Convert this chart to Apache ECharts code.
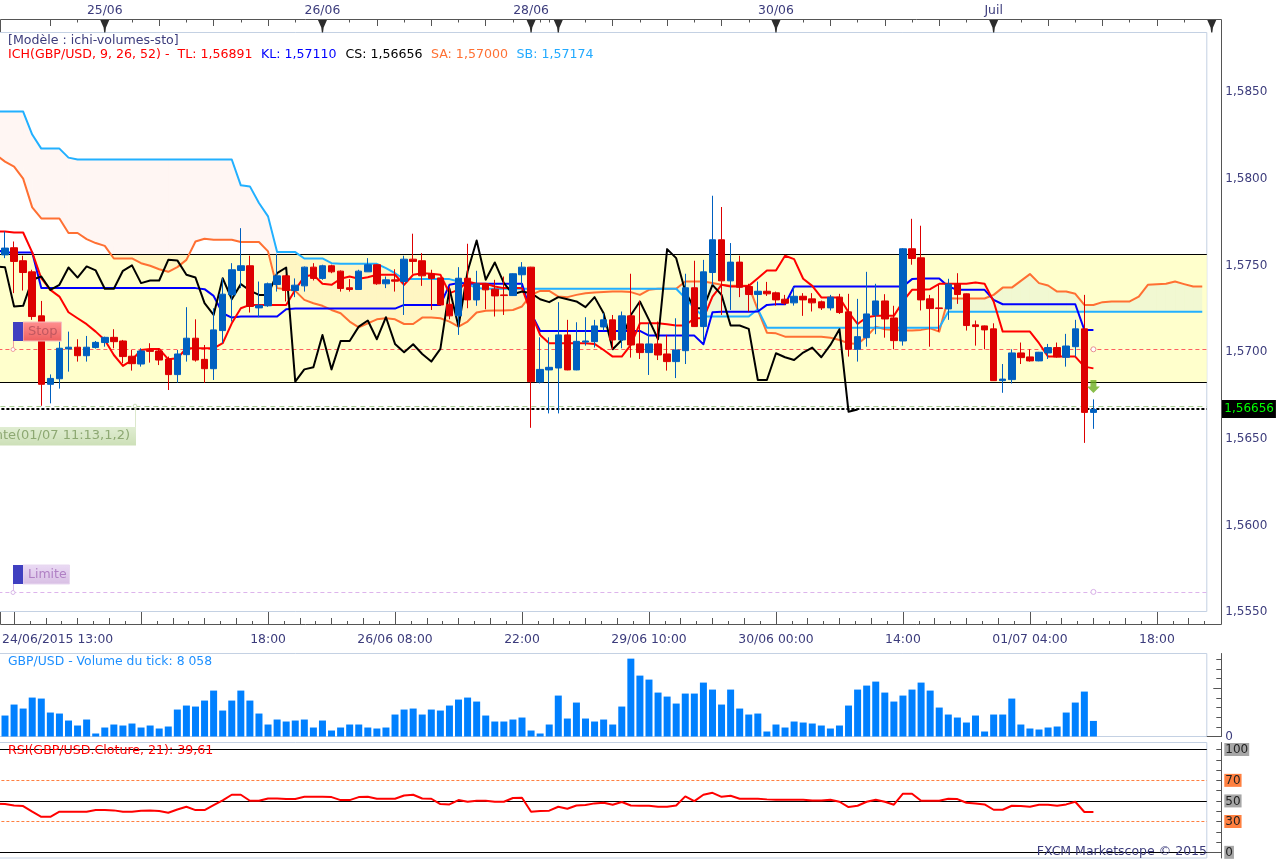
<!DOCTYPE html>
<html><head><meta charset="utf-8"><style>html,body{margin:0;padding:0;background:#fff;overflow:hidden;width:1279px;height:860px}#c{position:absolute;left:-9px;top:0;width:1288px;height:860px}</style>
<script src="https://cdn.jsdelivr.net/npm/echarts@6/dist/echarts.min.js"></script></head><body><div id="c"></div>
<script>
// all prices in 1/100000 ; bar 0 of the lines lies just off the left edge
const opens=[157545,157586,157511,157447,157193,156798,156830,157002,157012,156963,157010,157039,157069,157048,156960,156915,156994,156990,156944,156854,156969,157064,156942,156888,157108,157314,157455,157482,157239,157251,157374,157424,157339,157366,157474,157409,157482,157451,157355,157345,157447,157488,157378,157401,157391,157520,157511,157434,157412,157260,157193,157410,157285,157378,157347,157314,157310,157430,157474,156811,156881,156892,157083,156881,157042,157044,157129,157170,157054,157193,157031,156981,157031,156973,156929,156992,157355,157131,157443,157632,157395,157503,157362,157316,157335,157326,157289,157268,157306,157291,157274,157239,157301,157216,157000,157067,157198,157279,157181,157048,157580,157528,157291,157239,157233,157376,157320,157141,157135,157118,156819,156825,156979,156956,156933,156979,157010,156954,157015,157118,156636];
const closes=[157584,157507,157443,157189,156798,156832,157006,157012,156963,157012,157040,157069,157044,156958,156917,156990,156988,156938,156854,156973,157064,156938,156888,157112,157318,157459,157482,157247,157254,157378,157424,157339,157370,157474,157409,157482,157447,157351,157345,157451,157488,157378,157401,157393,157520,157507,157424,157409,157256,157193,157410,157285,157378,157343,157308,157310,157436,157474,156813,156884,156896,157083,156881,157046,157048,157135,157170,157054,157193,157025,156981,157031,156967,156929,156996,157355,157131,157447,157632,157395,157503,157358,157316,157335,157320,157285,157266,157306,157285,157268,157239,157301,157212,157000,157073,157204,157279,157175,157050,157580,157524,157285,157235,157235,157376,157316,157137,157131,157112,156819,156828,156979,156952,156933,156983,157010,156956,157019,157118,156636,156653];
const lows=[157526,157324,157339,157170,156674,156688,156773,156871,156929,156929,157004,157015,157006,156919,156877,156900,156923,156909,156765,156807,156929,156929,156807,156823,157035,157160,157353,157212,157185,157245,157333,157276,157301,157333,157397,157401,157439,157333,157333,157343,157447,157372,157353,157333,157198,157436,157366,157227,157254,157173,157083,157237,157251,157231,157189,157198,157308,157353,156547,156803,156630,156630,156879,156879,157021,157010,157108,157000,157006,156952,156944,156852,156938,156877,156834,156915,157129,157044,157372,157198,157227,157301,157218,157227,157308,157252,157256,157252,157193,157218,157227,157224,157204,156958,156929,157015,157087,157067,157000,157021,157488,157224,157015,157102,157170,157262,157108,157021,157000,156817,156749,156803,156915,156929,156931,156944,156952,156900,156958,156460,156541];
const highs=[157680,157622,157540,157459,157279,156855,157044,157102,157058,157077,157048,157073,157116,157054,156996,157006,157035,157006,156958,156996,157243,157173,157025,157237,157410,157497,157699,157540,157391,157385,157551,157430,157409,157478,157497,157488,157488,157455,157405,157459,157526,157490,157420,157462,157540,157667,157555,157459,157414,157362,157474,157609,157453,157382,157401,157420,157438,157503,157476,157069,157069,157272,157170,157156,157185,157170,157208,157198,157218,157436,157281,157150,157160,157083,157179,157436,157511,157516,157886,157821,157613,157540,157378,157391,157389,157333,157314,157358,157324,157324,157281,157314,157320,157320,157291,157447,157378,157318,157251,157584,157753,157713,157314,157372,157407,157439,157322,157166,157137,157150,156915,157000,157039,157000,156985,157031,157039,157089,157170,157314,156711];
const tenkan=[157680,157680,157674,157674,157559,157410,157343,157304,157214,157179,157145,157102,157054,156967,156904,156938,156996,157002,157002,156942,156948,157006,157006,157006,157006,157035,157150,157237,157256,157256,157256,157256,157256,157343,157420,157430,157378,157372,157407,157420,157407,157416,157430,157430,157430,157372,157430,157439,157436,157430,157324,157343,157391,157378,157378,157362,157353,157353,157353,157208,157083,157035,157035,157035,157035,157035,157031,156996,156958,156958,157025,157150,157150,157150,157145,157137,157137,157179,157179,157304,157372,157362,157362,157366,157410,157455,157455,157540,157520,157407,157366,157299,157299,157299,157214,157146,157185,157193,157193,157193,157276,157343,157343,157347,157378,157378,157378,157378,157385,157378,157276,157102,157102,157102,157102,157035,156958,156958,156958,156958,156900,156890];
const kijun=[157574,157559,157559,157559,157559,157353,157353,157353,157353,157353,157353,157353,157353,157353,157353,157353,157353,157353,157353,157353,157353,157353,157353,157347,157308,157208,157183,157189,157189,157189,157189,157189,157231,157235,157235,157235,157235,157235,157235,157235,157235,157235,157235,157235,157235,157256,157256,157256,157256,157256,157372,157382,157378,157378,157378,157378,157378,157378,157378,157208,157106,157106,157106,157106,157106,157106,157106,157106,157106,157106,157106,157106,157079,157079,157079,157079,157079,157079,157029,157214,157216,157216,157216,157216,157218,157256,157260,157260,157362,157362,157362,157362,157362,157362,157362,157362,157362,157362,157362,157362,157362,157405,157409,157409,157409,157362,157343,157343,157343,157343,157285,157260,157260,157260,157260,157260,157260,157260,157260,157260,157112,157112];
const chikou=[157478,157474,157247,157251,157401,157420,157343,157372,157472,157414,157478,157455,157349,157349,157453,157484,157382,157397,157397,157516,157513,157430,157414,157266,157198,157410,157289,157376,157339,157314,157314,157439,157472,156813,156884,156896,157083,156884,157048,157048,157131,157166,157058,157185,157031,156983,157029,156973,156929,157002,157349,157131,157449,157628,157401,157501,157382,157318,157333,157324,157289,157272,157301,157289,157276,157243,157301,157208,157000,157054,157198,157276,157170,157058,157578,157526,157333,157237,157237,157372,157314,157137,157137,157118,156823,156823,156977,156954,156938,156981,157010,156954,157025,157116,156640,156653];
const senkouA=[158123,158083,158054,157985,157819,157755,157755,157755,157671,157671,157636,157613,157597,157524,157524,157524,157497,157482,157462,157447,157474,157516,157622,157638,157632,157632,157632,157619,157619,157619,157565,157353,157347,157337,157285,157266,157251,157227,157208,157160,157127,157150,157173,157179,157173,157146,157146,157183,157183,157179,157160,157131,157160,157212,157222,157224,157224,157227,157247,157314,157337,157337,157304,157301,157314,157324,157328,157330,157333,157333,157330,157314,157343,157349,157349,157349,157391,157391,157391,157382,157372,157366,157366,157366,157227,157096,157092,157073,157073,157073,157073,157073,157067,157054,157035,157031,157073,157131,157116,157112,157108,157108,157112,157121,157102,157295,157293,157293,157293,157293,157314,157356,157356,157395,157434,157382,157368,157333,157333,157320,157256,157256,157272,157276,157276,157276,157304,157372,157376,157378,157391,157376,157362,157362];
const senkouB=[158372,158372,158372,158372,158239,158158,158158,158158,158106,158095,158095,158095,158095,158095,158095,158095,158095,158095,158095,158095,158095,158095,158095,158095,158095,158095,158095,157946,157940,157844,157767,157561,157561,157561,157524,157524,157524,157497,157493,157493,157493,157493,157493,157468,157439,157405,157405,157405,157405,157405,157405,157391,157376,157353,157349,157349,157349,157349,157349,157349,157349,157349,157349,157349,157349,157349,157349,157349,157349,157349,157349,157349,157349,157349,157349,157349,157295,157237,157189,157189,157189,157189,157189,157189,157231,157125,157125,157125,157125,157125,157125,157125,157125,157125,157125,157125,157125,157125,157125,157125,157125,157125,157125,157125,157125,157216,157216,157216,157216,157216,157216,157216,157216,157216,157216,157216,157216,157216,157216,157216,157216,157216,157216,157216,157216,157216,157216,157216,157216,157216,157216,157216,157216,157216];
const tickVolume=[10836,16512,14448,20124,19608,12384,11868,8256,5676,8772,1548,4644,6192,5676,6708,4644,5676,4128,5160,13932,15996,15480,18576,23736,13416,18576,23736,18576,11868,6192,8772,7740,8256,8772,4644,8256,3096,4644,6192,6192,4644,4128,4644,11352,13932,14448,11352,13932,13416,15996,19092,20124,18060,10836,7740,7740,8772,9804,3096,1548,6192,21156,9288,17544,9288,7740,8772,6192,15480,40248,31476,29412,22704,20640,17028,22188,22188,27864,24252,16512,24252,14448,11352,11868,2580,6192,4644,7740,7224,6708,5676,4128,5676,15996,24252,26316,28380,22704,18060,21156,24252,27864,23736,14964,11352,9804,7224,10836,2580,11352,11352,19608,6192,4128,3612,4644,5160,12384,17544,23220,8058];
const rsi=[47.2,46.9,45.6,45.0,39.5,34.6,34.6,39.5,39.5,39.5,39.5,41.1,41.1,40.8,39.5,39.5,40.5,40.8,40.1,38.5,41.7,44.3,41.1,41.1,46.0,50.5,56.0,56.0,50.2,50.2,52.4,52.4,51.8,51.8,54.0,54.0,54.0,53.7,50.8,50.8,53.7,54.0,52.1,52.1,52.1,55.3,56.0,52.4,52.1,46.9,46.6,50.8,49.2,50.2,50.2,49.2,49.2,52.8,53.1,39.5,40.1,40.5,44.3,42.4,45.6,46.0,47.6,48.2,46.3,48.9,45.6,45.3,45.3,44.3,44.3,45.6,54.4,49.8,56.0,57.9,54.0,55.0,52.1,52.1,52.1,51.5,51.1,51.1,51.1,51.1,50.5,50.5,51.1,49.2,44.0,45.3,49.2,51.1,49.2,46.3,57.0,57.0,50.2,50.2,50.2,52.1,51.8,48.2,47.6,46.6,41.4,41.4,45.3,45.0,44.3,46.3,46.3,45.3,46.6,49.2,39.2,39.2];
const priceTicks=[1.555,1.56,1.565,1.57,1.575,1.58,1.585];
const bottomTickIdx=[7.3,30.5,44.5,58.5,72.5,86.5,100.5,114.5,128.5];
const bottomTickText=['24/06/2015 13:00','18:00','26/06 08:00','22:00','29/06 10:00','30/06 00:00','14:00','01/07 04:00','18:00'];
const topTickIdx=[12.5,36.5,59.5,86.5,110.5];
const topTickText=['25/06','26/06','28/06','30/06','Juil'];
const flagIdx=[12,36,59,62,86,110,133];
const lastPrice=1.56656, bandHigh=1.57547, bandLow=1.56808, stopPrice=1.5700, limitPrice=1.5560, entryPrice=1.56671;
const FONT='DejaVu Sans', TXT='#3C3C7C', EDGE='#C4D1E3', AX='#555';
const P=v=>v==null?null:v/100000, pr=a=>a.map(P);
const N=134, bars=Array.from({length:N},(_, i)=>'b'+i);
const padded=a=>a.concat(new Array(N-a.length).fill(null));
const yMin=1.55487,yMax=1.58828;
const chart=echarts.init(document.getElementById('c'),null,{renderer:'canvas',width:1288,height:860});
const comma=v=>v.toFixed(4).replace('.',',');
const grids=[{left:0.4,width:1215.4,top:32.5,height:579},{left:0.4,width:1215.4,top:653.5,height:83},{left:0.4,width:1215.4,top:742.5,height:115.5}]
 .map(g=>({...g,show:true,borderColor:EDGE,borderWidth:1,backgroundColor:'transparent',containLabel:false}));
const hiddenCat=i=>({type:'category',gridIndex:i,data:bars,show:false,boundaryGap:true});
const tickX=(pos,offset,vals,len,label)=>({type:'value',gridIndex:0,min:0,max:N,position:pos,offset,axisLine:{show:false},splitLine:{show:false},
  axisTick:{show:true,inside:true,length:len,customValues:vals,lineStyle:{color:AX,width:1}},
  axisLabel:label||{show:false,customValues:vals}});
// tick positions along the two time axes
const bt=[];for(let n=0;n<76;n++)bt.push(2.5+1.75*n);
const btLong=bt.filter((_,n)=>n%8===0),btMid=bt.filter((_,n)=>n%8!==0&&n%2===0),btShort=bt.filter((_,n)=>n%2===1);
const ttLong=[],ttShort=[];
for(let i=5;i<=56;i+=3)((i-5)%6===0?ttLong:ttShort).push(i+1.5);
[59,60].forEach(i=>ttShort.push(i+1.5));
for(let i=61;i<=130;i+=3)((i-61)%6===0?ttLong:ttShort).push(i+1.5);
const xLab=(vals,text,margin)=>({show:true,customValues:vals,margin,color:TXT,fontFamily:FONT,fontSize:12.4,
  hideOverlap:false,formatter:v=>{const k=vals.findIndex(q=>Math.abs(q-v)<1e-6);return k<0?'':text[k];}});
const xAxes=[hiddenCat(0),hiddenCat(1),hiddenCat(2),
  tickX('bottom',12.5,btLong,12,xLab(bottomTickIdx,bottomTickText,9.5)),
  tickX('bottom',12.5,btMid,6),tickX('bottom',12.5,btShort,3),
  tickX('top',13,ttLong,6.5,xLab(topTickIdx,topTickText,2.5)),
  tickX('top',13,ttShort,3)];
const tickY=(grid,min,max,vals,len,label,line)=>({type:'value',gridIndex:grid,position:'right',offset:14.5,min,max,splitLine:{show:false},
  axisLine:{show:!!line,lineStyle:{color:AX}},
  axisTick:{show:true,inside:true,length:len,customValues:vals,lineStyle:{color:AX}},
  axisLabel:label||{show:false,customValues:vals}});
const px5=[],px25=[];
for(let k=0;k<=66;k++){const v=+(1.555+k*0.0005).toFixed(4);if(v<yMax&&k%10!==0){(k%5===0?px25:px5).push(v);}}
const vol5=[5000,10000,15000,20000,30000,35000,40000];
const rsi10=[10,20,30,40,50,60,70,80,90,100];
const volMax=42900;
const rsiMin=-5.5,rsiMax=106.8;
const yAxes=[
 tickY(0,yMin,yMax,priceTicks,14.5,{show:true,customValues:priceTicks,margin:4,formatter:v=>'{p|'+comma(v)+'}',
   rich:{p:{color:TXT,fontFamily:FONT,fontSize:12,padding:[6,0,0,0]}}}),
 tickY(0,yMin,yMax,px25,7),
 tickY(0,yMin,yMax,px5,4.5),
 {type:'value',gridIndex:0,position:'right',offset:14.5,min:yMin,max:yMax,splitLine:{show:false},axisLine:{show:false},axisTick:{show:false},
  axisLabel:{show:true,customValues:[lastPrice],margin:0,color:'#00FF00',backgroundColor:'#000',padding:[3,2,3,3],fontFamily:FONT,fontSize:12,formatter:v=>v.toFixed(5).replace('.',',')}},
 tickY(1,0,volMax,[0],14.5,{show:true,customValues:[0],margin:4,color:TXT,fontFamily:FONT,fontSize:12,formatter:v=>String(v)},true),
 tickY(1,0,volMax,vol5,5),
 tickY(2,rsiMin,rsiMax,[0],14.5,{show:true,customValues:[0,30,50,70,100],margin:3,fontFamily:FONT,fontSize:12,color:'#222',
   formatter:v=>{const s=(v===30||v===70)?'o':'g';return '{'+s+'|'+v+'}';},
   rich:{g:{backgroundColor:'#A6A6A6',padding:[1,1,0,1],fontFamily:FONT,fontSize:12,color:'#222'},o:{backgroundColor:'#FF8040',padding:[1,1,0,1],fontFamily:FONT,fontSize:12,color:'#222'}}},true),
 tickY(2,rsiMin,rsiMax,rsi10,5),
 tickY(1,0,volMax,[25000],8)
];
const lineS=(name,data,color,w=2)=>({name,type:'line',xAxisIndex:0,yAxisIndex:0,data:padded(pr(data)),showSymbol:false,symbol:'none',connectNulls:false,z:4,clip:true,lineStyle:{color,width:w,cap:'butt',join:'round'},silent:true});
const sa=pr(senkouA),sb=pr(senkouB);
const series=[
 {type:'line',name:'levels',xAxisIndex:0,yAxisIndex:0,data:[],silent:true,z:1,
  markArea:{silent:true,z:0,itemStyle:{color:'#FFFFCC'},data:[[{yAxis:bandHigh},{yAxis:bandLow}]]},
  markLine:{silent:true,z:3,precision:5,symbol:'none',label:{show:false},animation:false,data:[
    {yAxis:bandHigh,lineStyle:{color:'#000',width:1.2,type:'solid'}},
    {yAxis:bandLow,lineStyle:{color:'#000',width:1.2,type:'solid'}},
    {yAxis:stopPrice,lineStyle:{color:'#FF6060',width:1,type:[4,3]}},
    {yAxis:entryPrice,lineStyle:{color:'#A9CC92',width:1,type:[5,4]}},
    {yAxis:limitPrice,lineStyle:{color:'#DDB4EC',width:1,type:[4,3]}},
    {yAxis:lastPrice,lineStyle:{color:'#000',width:2,type:[3,2]}}]},
  markPoint:{silent:true,z:6,symbol:'circle',symbolSize:5,label:{show:false},itemStyle:{color:'#fff',borderColor:'#E89090',borderWidth:1},
    data:[{coord:['b121',stopPrice]},{coord:['b121',limitPrice],itemStyle:{color:'#fff',borderColor:'#D8B0E8',borderWidth:1}}]}},
 {type:'custom',name:'cloud',xAxisIndex:0,yAxisIndex:0,silent:true,z:2,clip:true,
  data:bars.slice(0,N-1).map((_,i)=>[i]),encode:{x:0},
  renderItem:(params,api)=>{
    const i=api.value(0),a0=sa[i],a1=sa[i+1],b0=sb[i],b1=sb[i+1];
    if(a0==null||a1==null)return null;
    const col=(a,b)=>a>b?'rgba(190,225,230,0.22)':'rgba(255,100,50,0.06)';
    const c=(x,y)=>api.coord([x,y]);
    const poly=(pts,fill)=>({type:'polygon',shape:{points:pts},style:{fill,stroke:null}});
    const d0=a0-b0,d1=a1-b1;
    if(d0*d1>=0)return poly([c(i,a0),c(i+1,a1),c(i+1,b1),c(i,b0)],col(a0+a1,b0+b1));
    const t=d0/(d0-d1),m=i+t,v=a0+(a1-a0)*t;
    return {type:'group',children:[poly([c(i,a0),c(m,v),c(i,b0)],col(a0,b0)),poly([c(m,v),c(i+1,a1),c(i+1,b1)],col(a1,b1))]};
  }},
 lineS('SA',senkouA,'#FF7033'),lineS('SB',senkouB,'#22B0FF'),lineS('KL',kijun,'#0000FF'),lineS('TL',tenkan,'#FF0000'),lineS('CS',chikou,'#000000'),
 {type:'candlestick',name:'GBP/USD',xAxisIndex:0,yAxisIndex:0,z:5,barWidth:7,silent:true,
  data:[['-','-','-','-']].concat(opens.map((o,i)=>[P(o),P(closes[i]),P(lows[i]),P(highs[i])])),
  itemStyle:{color:'#0060C0',color0:'#DD0000',borderColor:'#0060C0',borderColor0:'#DD0000',borderWidth:1}},
 {type:'scatter',name:'signal',xAxisIndex:0,yAxisIndex:0,z:6,silent:true,data:[['b121',1.56785]],
  symbol:'path://M3.5,0 H9.5 V6.5 H13 L6.5,13 L0,6.5 H3.5 Z',symbolSize:[13,13],itemStyle:{color:'#6CAE1E'}},
 {type:'custom',name:'flags',xAxisIndex:0,yAxisIndex:0,silent:true,clip:false,z:7,data:flagIdx.map(i=>[i,yMax]),encode:{x:0,y:1},
  renderItem:(params,api)=>{
    const p=api.coord([api.value(0),api.value(1)]);const x=p[0]+(api.value(0)===133?9.5:0),y=p[1];
    return {type:'polygon',shape:{points:[[x-4.5,y-12.5],[x+4.5,y-12.5],[x+1.2,y-5],[x+0.6,y],[x-0.6,y],[x-1.2,y-5]]},style:{fill:'#2C2C2C'}};
  }},
 {type:'bar',name:'Volume',xAxisIndex:1,yAxisIndex:4,data:[null].concat(tickVolume),barWidth:7,silent:true,itemStyle:{color:'#0080FF'}},
 {type:'line',name:'RSI',xAxisIndex:2,yAxisIndex:6,data:padded(rsi),showSymbol:false,symbol:'none',silent:true,z:4,lineStyle:{color:'#FF0000',width:2},
  markLine:{silent:true,symbol:'none',z:3,label:{show:false},animation:false,data:[
   {yAxis:100,lineStyle:{color:'#000',width:1.2,type:'solid'}},{yAxis:50,lineStyle:{color:'#000',width:1.2,type:'solid'}},{yAxis:0,lineStyle:{color:'#000',width:1.2,type:'solid'}},
   {yAxis:70,lineStyle:{color:'#FF8040',width:1,type:[3,2]}},{yAxis:30,lineStyle:{color:'#FF8040',width:1,type:[3,2]}}]}}
];
const T=(x,y,text,fill,extra={})=>({type:'text',x,y,z:50,silent:true,style:{text,fill,fontFamily:FONT,fontSize:12.6,verticalAlign:'middle',align:'left',...extra}});
const R=(x,y,w,h,fill,extra={})=>({type:'rect',z:49,silent:true,shape:{x,y,width:w,height:h},style:{fill,...extra}});
const V=(x0,y0,x1,y1,stroke)=>({type:'line',z:48,silent:true,shape:{x1:x0,y1:y0,x2:x1,y2:y1},style:{stroke,lineWidth:1}});
const grad=(a,b)=>new echarts.graphic.LinearGradient(0,0,0,1,[{offset:0,color:a},{offset:1,color:b}]);
const graphic=[{type:'group',x:9,y:0,children:[
 {type:'polyline',z:1,silent:true,shape:{points:[[0.5,32],[0.5,19.5],[1221.5,19.5],[1221.5,624.5],[0.5,624.5],[0.5,612]]},style:{stroke:AX,lineWidth:1,fill:null}},
 T(8,40.5,'[Modèle : ichi-volumes-sto]',TXT),
 T(8,54.5,'ICH(GBP/USD, 9, 26, 52) -  TL: 1,56891','#FF0000'),
 T(261,54.5,'KL: 1,57110','#0000FF'),
 T(345.5,54.5,'CS: 1,56656','#000000'),
 T(431,54.5,'SA: 1,57000','#FF7033'),
 T(516.5,54.5,'SB: 1,57174','#22AAFF'),
 T(8,661.5,'GBP/USD - Volume du tick: 8 058','#1E90FF',{fontSize:12.4}),
 T(8,750.5,'RSI(GBP/USD.Cloture, 21): 39,61','#FF0000'),
 T(1207,851.5,'FXCM Marketscope © 2015',TXT,{align:'right',fontSize:12.5}),
 // stop ticket
 V(13.5,341,13.5,348,'#F0A0A0'),{type:'circle',z:49,silent:true,shape:{cx:13,cy:349.5,r:2},style:{fill:'#fff',stroke:'#F0A0A0'}},
 R(23,322,38.5,19,grad('#FF9090','#EE5F5F'),{stroke:'#F5C0C0',lineWidth:1}),R(13,322,10,19,'#4040C0'),
 T(28,332,'Stop','#C05860',{fontSize:13}),
 // limit ticket
 V(13.5,584,13.5,591,'#D8B8E8'),{type:'circle',z:49,silent:true,shape:{cx:13,cy:592.5,r:2},style:{fill:'#fff',stroke:'#D8B8E8'}},
 R(23,565,46.5,19,grad('#EADAF4','#D8BFE4'),{stroke:'#E8D8F0',lineWidth:1}),R(13,565,10,19,'#4040C0'),
 T(28,575,'Limite','#B080C4',{fontSize:12.5}),
 // entry ticket
 V(135.5,407,135.5,427,'#DCE8CC'),{type:'circle',z:49,silent:true,shape:{cx:135,cy:406,r:1.8},style:{fill:'#fff',stroke:'#CFE0BC'}},
 R(-2,427,138,18.5,grad('#E0EDD2','#CDE0B8')),
 T(130,436,'nte(01/07 11:13,1,2)','#8DA872',{align:'right',fontSize:13})
]}];
chart.setOption({animation:false,backgroundColor:'#fff',textStyle:{fontFamily:FONT},tooltip:{show:false},grid:grids,xAxis:xAxes,yAxis:yAxes,series,graphic});
</script></body></html>
